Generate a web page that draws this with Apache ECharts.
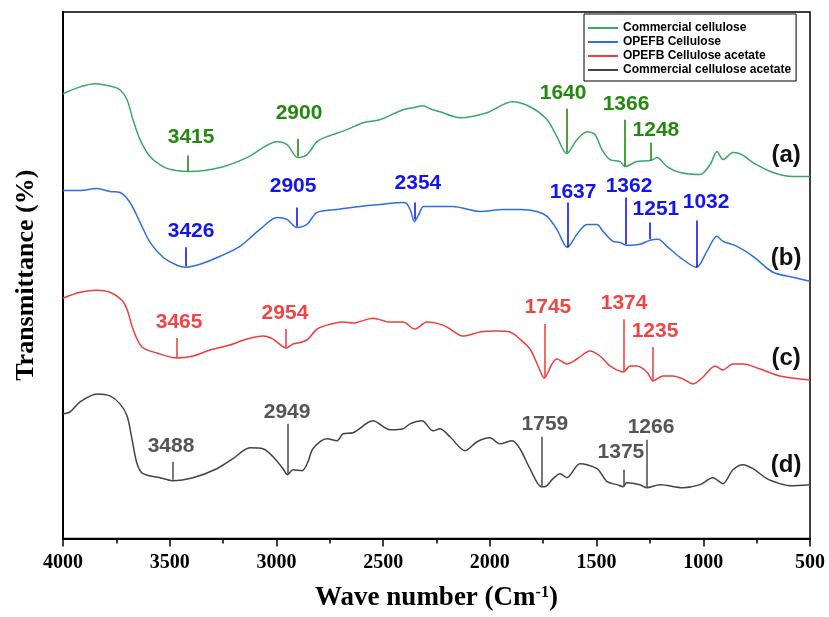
<!DOCTYPE html>
<html>
<head>
<meta charset="utf-8">
<script src="https://cdn.jsdelivr.net/npm/echarts@6/dist/echarts.min.js"></script>
<style>
  html, body { margin: 0; padding: 0; background: #fff; }
  #chart { width: 829px; height: 617px; }
</style>
</head>
<body>
<div id="chart"></div>
<script>
// FTIR spectra, stacked with vertical offsets: [wavenumber (cm-1), offset transmittance]
const commercialCellulose = [
  [4000,446],[3850,456],[3766,453],[3733,450],[3700,440],[3672,420],[3639,400],[3592,383],
  [3531,373],[3470,369],[3405,368],[3264,372],[3138,382],[2997,398],[2950,395],[2900,382],
  [2857,385],[2810,398],[2763,403],[2669,410],[2594,417],[2515,420],[2407,430],[2360,432],
  [2313,434],[2280,431],[2234,428],[2140,422],[2013,427],[1896,438],[1812,433],[1732,420],
  [1686,403],[1640,386],[1592,400],[1545,408],[1507,405],[1475,390],[1437,380],[1390,378],
  [1366,373],[1311,378],[1248,379],[1217,382],[1170,373],[1109,367],[1015,365],[968,375],
  [936,388],[907,380],[861,387],[819,385],[767,377],[673,367],[580,363],[500,363]
];
const opefbCellulose = [
  [4000,349],[3920,349],[3841,351],[3780,348],[3733,347],[3686,337],[3639,317],[3592,297],
  [3531,282],[3466,274],[3426,272],[3358,275],[3264,283],[3171,293],[3077,310],[2997,322],
  [2950,320],[2905,312],[2857,315],[2810,327],[2716,330],[2608,333],[2515,335],[2407,337],
  [2390,336],[2370,328],[2354,318],[2335,324],[2310,333],[2234,333],[2173,333],[2046,328],
  [1938,330],[1859,330],[1779,328],[1732,323],[1686,310],[1637,292],[1592,305],[1545,315],
  [1498,315],[1470,308],[1423,298],[1390,297],[1362,294],[1297,295],[1251,299],[1212,300],
  [1170,293],[1109,282],[1032,272],[983,288],[936,303],[907,298],[842,293],[767,283],
  [673,267],[580,262],[500,258]
];
const opefbCelluloseAcetate = [
  [4000,241],[3920,247],[3841,249],[3780,247],[3724,239],[3700,230],[3672,210],[3630,192],
  [3560,186],[3465,181],[3391,183],[3311,189],[3218,194],[3138,200],[3063,203],[3016,200],
  [2954,191],[2922,195],[2880,197],[2852,200],[2810,210],[2763,214],[2688,217],[2641,216],
  [2548,221],[2468,217],[2407,217],[2351,210],[2295,217],[2234,215],[2201,212],[2126,203],
  [2046,207],[1967,208],[1906,207],[1859,200],[1812,190],[1774,173],[1745,161],[1709,175],
  [1686,180],[1639,175],[1592,180],[1531,188],[1484,183],[1437,173],[1374,167],[1343,173],
  [1311,173],[1264,167],[1235,158],[1189,163],[1142,163],[1095,160],[1048,155],[1001,162],
  [945,173],[908,169],[861,175],[814,175],[734,170],[641,163],[500,159]
];
const commercialCelluloseAcetate = [
  [4000,125],[3967,127],[3920,137],[3841,145],[3780,143],[3733,135],[3700,123],[3677,100],
  [3653,75],[3625,65],[3545,61],[3488,58],[3391,61],[3279,70],[3204,80],[3124,91],
  [3063,90],[3016,82],[2969,70],[2949,64],[2922,69],[2880,68],[2852,77],[2829,90],
  [2763,100],[2716,98],[2688,105],[2641,106],[2548,118],[2468,109],[2407,110],[2374,115],
  [2318,118],[2266,108],[2234,110],[2187,102],[2116,88],[2060,97],[2000,101],[1953,95],
  [1896,98],[1859,90],[1812,70],[1759,52],[1742,52],[1704,60],[1671,65],[1639,61],
  [1578,75],[1498,70],[1451,57],[1404,54],[1375,52],[1358,56],[1297,54],[1266,51],
  [1203,54],[1095,51],[1015,54],[955,61],[908,55],[861,69],[814,74],[767,70],
  [702,60],[641,55],[594,53],[500,54]
];

// Peak assignments: [wavenumber, tick bottom, tick top, label wavenumber position, label height]
const peaksA = [[3415,368,384,3400,402],[2900,383,401,2894,427],[1640,387,431,1657,447],
                [1366,373,420,1362,436],[1248,379,397,1222,409]];
const peaksB = [[3426,273,292,3400,308],[2905,313,332,2922,353],[2354,320,337,2337,356],
                [1637,292,337,1610,347],[1362,295,342,1348,353],[1251,300,317,1222,330],
                [1032,272,319,987,337]];
const peaksC = [[3465,181,201,3456,217],[2954,191,210,2960,226],[1745,161,215,1728,232],
                [1374,167,220,1371,236],[1235,158,192,1226,208]];
const peaksD = [[3488,59,77,3494,93],[2949,65,115,2950,127],[1759,52,102,1742,115],
                [1375,52,69,1386,87],[1266,51,99,1245,112]];

// Curve tags placed beside each trace: [wavenumber, height, text]
const curveTags = [[612,384,'(a)'],[612,281,'(b)'],[612,181,'(c)'],[612,73,'(d)']];

const seriesNames = ['Commercial cellulose','OPEFB Cellulose','OPEFB Cellulose acetate','Commercial cellulose acetate'];
const xTicks = { min: 500, max: 4000, step: 500 };

const sansBold = { fontFamily: 'Liberation Sans, Arial, sans-serif', fontWeight: 'bold' };
const serifBold = { fontFamily: 'Liberation Serif, Times New Roman, serif', fontWeight: 'bold', color: '#000' };

function spectrum(name, data, lineColor, peaks, markColor) {
  return {
    type: 'line', name: name, data: data,
    showSymbol: false, symbol: 'none', smooth: 0.3,
    lineStyle: { color: lineColor, width: 1.5 },
    itemStyle: { color: lineColor },
    animation: false, z: 3,
    markLine: {
      silent: true, animation: false, symbol: ['none','none'],
      label: { show: false },
      lineStyle: { color: markColor, width: 1.6, type: 'solid' },
      data: peaks.map(p => [{ coord: [p[0], p[1]] }, { coord: [p[0], p[2]] }])
    }
  };
}

function textSeries(points, color, size) {
  return {
    type: 'scatter', silent: true, animation: false, z: 5,
    symbolSize: 0,
    itemStyle: { color: color, opacity: 1 },
    data: points,
    label: Object.assign({
      show: true, position: 'inside', color: color, fontSize: size, opacity: 1,
      formatter: d => d.value[2]
    }, sansBold)
  };
}

function peakLabels(peaks, color) {
  return textSeries(peaks.map(p => [p[3], p[4], String(p[0])]), color, 21);
}

const chart = echarts.init(document.getElementById('chart'));
chart.setOption({
  backgroundColor: '#fff',
  animation: false,
  grid: { left: 63, right: 19, top: 12, bottom: 77, show: true, borderColor: '#000', borderWidth: 1.5 },
  legend: {
    data: seriesNames,
    orient: 'vertical', left: 584, top: 14,
    padding: [8, 5, 5, 4], itemGap: 2,
    itemWidth: 30, itemHeight: 2, icon: 'rect',
    borderColor: '#000', borderWidth: 1, backgroundColor: '#fff',
    textStyle: Object.assign({ fontSize: 12, color: '#000', lineHeight: 12 }, sansBold)
  },
  xAxis: {
    type: 'value', inverse: true,
    min: xTicks.min, max: xTicks.max, interval: xTicks.step,
    axisLine: { lineStyle: { color: '#000', width: 2 } },
    axisTick: { length: 8, lineStyle: { color: '#000', width: 1.5 } },
    minorTick: { show: true, splitNumber: 2, length: 5, lineStyle: { color: '#000', width: 1.5 } },
    splitLine: { show: false },
    axisLabel: Object.assign({ fontSize: 20, margin: 14, formatter: v => String(v) }, serifBold),
    name: 'Wave number (Cm{sup|-1})',
    nameLocation: 'middle', nameGap: 46,
    nameTextStyle: Object.assign({
      fontSize: 27,
      rich: { sup: Object.assign({ fontSize: 16, padding: [0, 0, 12, 0] }, serifBold) }
    }, serifBold)
  },
  yAxis: {
    type: 'value', min: 0, max: 528,
    axisLine: { show: true, lineStyle: { color: '#000', width: 2 } },
    axisTick: { show: false }, axisLabel: { show: false }, splitLine: { show: false },
    name: 'Transmittance (%)', nameLocation: 'middle', nameGap: 24,
    nameTextStyle: Object.assign({ fontSize: 26 }, serifBold)
  },
  series: [
    spectrum(seriesNames[0], commercialCellulose, '#3aa867', peaksA, '#25880f'),
    spectrum(seriesNames[1], opefbCellulose, '#2e6fdc', peaksB, '#1414ee'),
    spectrum(seriesNames[2], opefbCelluloseAcetate, '#f03c3c', peaksC, '#f04545'),
    spectrum(seriesNames[3], commercialCelluloseAcetate, '#444444', peaksD, '#555555'),
    peakLabels(peaksA, '#25880f'),
    peakLabels(peaksB, '#1414ee'),
    peakLabels(peaksC, '#f04545'),
    peakLabels(peaksD, '#555555'),
    textSeries(curveTags, '#111111', 24)
  ]
});
</script>
</body>
</html>
